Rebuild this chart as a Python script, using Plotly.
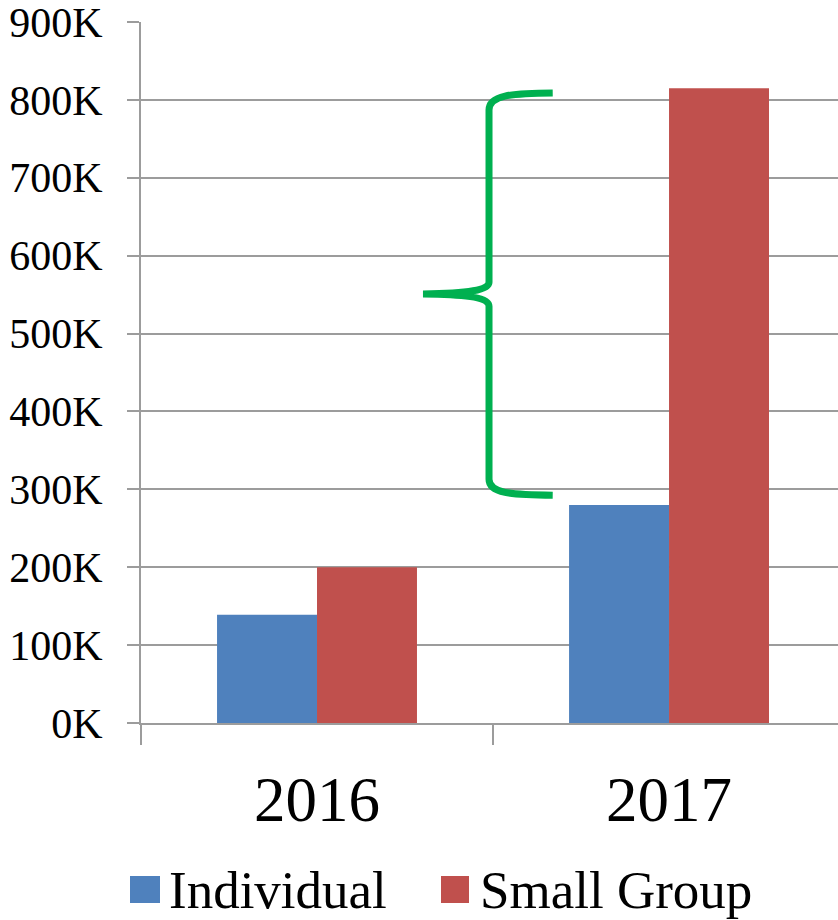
import plotly.graph_objects as go

# Chart data
years = ["2016", "2017"]
series_names = ["Individual", "Small Group"]
individual = [139000, 280000]
small_group = [200000, 815000]
y_tick_values = [0, 100000, 200000, 300000, 400000, 500000, 600000, 700000, 800000, 900000]
y_tick_labels = ["0K", "100K", "200K", "300K", "400K", "500K", "600K", "700K", "800K", "900K"]

colors = ["#4F81BD", "#C0504D"]
grid_color = "#9C9C9C"
serif = "Liberation Serif"

fig = go.Figure()
fig.add_trace(go.Bar(x=years, y=individual, name=series_names[0],
                     marker=dict(color=colors[0], line=dict(width=0)), showlegend=False))
fig.add_trace(go.Bar(x=years, y=small_group, name=series_names[1],
                     marker=dict(color=colors[1], line=dict(width=0)), showlegend=False))

# Green curly brace spanning the 2017 gap (x in paper units, y in data units)
xe, xs, xt = 0.5907, 0.4993, 0.4046
brace = (
    f"M {xe},809000 C 0.530,808500 {xs},806000 {xs},787000 "
    f"L {xs},566000 C {xs},556000 0.470,551500 {xt},550800 "
    f"C 0.470,550200 {xs},546000 {xs},535000 "
    f"L {xs},313000 C {xs},295000 0.530,293000 {xe},292500"
)
fig.add_shape(type="path", path=brace, xref="paper", yref="y",
              line=dict(color="#00B050", width=7))

# Legend drawn as swatches and labels beneath the axis
plot_w, plot_h, plot_left, plot_bottom = 697, 701, 141, 723

def px_x(p):
    return (p - plot_left) / plot_w

def px_y(p):
    return (plot_bottom - p) / plot_h

legend_items = [(130, 160, 167), (441, 469, 478)]
for (sx0, sx1, tx), name, col in zip(legend_items, series_names, colors):
    fig.add_shape(type="rect", xref="paper", yref="paper",
                  x0=px_x(sx0), x1=px_x(sx1), y0=px_y(903), y1=px_y(876),
                  fillcolor=col, line=dict(width=0))
    fig.add_annotation(text=name, xref="paper", yref="paper",
                       x=px_x(tx), y=px_y(890), xanchor="left", yanchor="middle",
                       showarrow=False, font=dict(family=serif, size=53, color="black"))

fig.update_layout(
    width=838, height=920,
    margin=dict(l=141, r=0, t=22, b=197),
    paper_bgcolor="white", plot_bgcolor="white",
    barmode="group", bargap=0.432, bargroupgap=0,
    showlegend=False,
    font=dict(family=serif, color="black"),
)
fig.update_xaxes(
    type="category", range=[-0.5, 1.48],
    tickson="boundaries", ticks="outside", ticklen=20, tickwidth=2, tickcolor=grid_color,
    ticklabelstandoff=20,
    showgrid=False, showline=True, linecolor=grid_color, linewidth=2,
    tickfont=dict(family=serif, size=63, color="black"),
    zeroline=False,
)
fig.update_yaxes(
    range=[0, 900000], tickvals=y_tick_values, ticktext=y_tick_labels,
    ticks="outside", ticklen=12, tickwidth=2, tickcolor=grid_color,
    ticklabelstandoff=16, ticklabeloverflow="allow",
    showgrid=True, gridcolor=grid_color, gridwidth=2,
    showline=True, linecolor=grid_color, linewidth=2,
    zeroline=False,
    tickfont=dict(family=serif, size=42, color="black"),
)

fig.write_html("out.html")
